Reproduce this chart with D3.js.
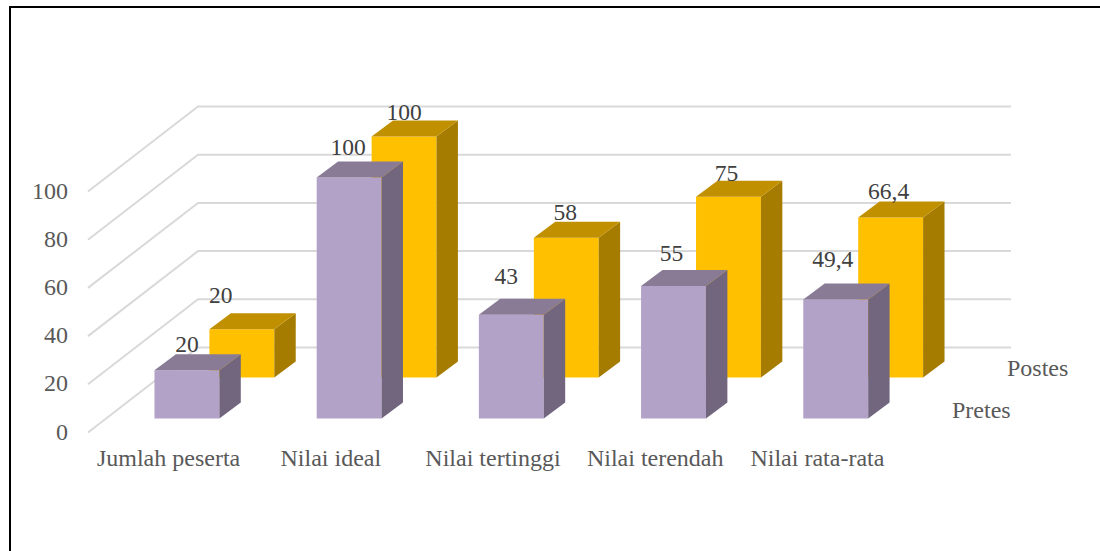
<!DOCTYPE html>
<html>
<head>
<meta charset="utf-8">
<script src="https://cdn.jsdelivr.net/npm/d3@7.9.0/dist/d3.min.js"></script>
<style>
html, body { margin: 0; padding: 0; background: #fff; }
svg { display: block; font-family: "Liberation Serif", serif; }
</style>
</head>
<body>
<script>
// values
const categories = ["Jumlah peserta", "Nilai ideal", "Nilai tertinggi", "Nilai terendah", "Nilai rata-rata"];
const seriesNames = ["Pretes", "Postes"];
const pretes = [20, 100, 43, 55, 49.4];
const postes = [20, 100, 58, 75, 66.4];
const valueTicks = [0, 20, 40, 60, 80, 100];

// labels were placed by hand in the original, so each one gets a nudge
const labelNudge = {
    Pretes: [[0, -2], [-1, -6], [-5, -15], [-2, -9], [-3, -16]],
    Postes: [[-21, -10], [0, -1], [-1, -2], [-2, 0], [-2, -3]]
};

const width = 1100, height = 551;
const colors = {
    Pretes: { front: "#b3a2c7", top: "#897b96", side: "#72667f" },
    Postes: { front: "#ffc000", top: "#c09000", side: "#a67c00" }
};

const svg = d3.select("body").append("svg").attr("width", width).attr("height", height);

// outer frame
svg.append("path")
    .attr("d", "M10,551V7H1100")
    .attr("fill", "none")
    .attr("stroke", "#000")
    .attr("stroke-width", 2);

const xScale = d3.scaleBand().domain(categories).range([88, 899]).paddingInner(0.6).paddingOuter(0.3);
const yScale = d3.scaleLinear().domain([0, 100]).range([432.5, 191.5]);
const depthScale = d3.scaleBand().domain(seriesNames).range([0, 1]).paddingInner(0.61).paddingOuter(0.3425);

// oblique projection: depth 0 is the front edge, depth 1 the back wall
const depthY = -85;
const project = (x, value, depth) => [x + depth * 110, yScale(value) + depth * depthY];
// the bars lean a bit more than the grid in the original
const projectBar = (x, value, depth) => [x - 1 + depth * 114, yScale(value) + depth * depthY];

// grid: floor/side line plus back wall line for each tick
const grid = svg.append("g").attr("fill", "none").attr("stroke", "#d9d9d9").attr("stroke-width", 2);
valueTicks.forEach(t => {
    grid.append("path").attr("d", d3.line()([
        project(88, t, 0),
        project(88, t, 1),
        project(901, t, 1)
    ]));
});

valueTicks.forEach(t => {
    svg.append("text")
        .attr("x", 68)
        .attr("y", yScale(t) + 7)
        .attr("text-anchor", "end")
        .attr("fill", "#595959")
        .style("font-size", "24px")
        .text(t);
});

categories.forEach(c => {
    svg.append("text")
        .attr("x", xScale(c) + xScale.bandwidth() / 2 - 0.5)
        .attr("y", 466)
        .attr("text-anchor", "middle")
        .attr("fill", "#595959")
        .style("font-size", "24px")
        .text(c);
});

// series names sit on the depth axis, to the right of the floor
const seriesNudge = { Pretes: [952, 418], Postes: [1007, 376] };
seriesNames.forEach(s => {
    svg.append("text")
        .attr("x", seriesNudge[s][0])
        .attr("y", seriesNudge[s][1])
        .attr("fill", "#595959")
        .style("font-size", "24px")
        .text(s);
});

function drawBar(parent, category, value, name) {
    const x0 = xScale(category), x1 = x0 + xScale.bandwidth();
    const d0 = depthScale(name), d1 = d0 + depthScale.bandwidth();
    const line = d3.line();
    const g = parent.append("g");
    g.append("path").attr("fill", colors[name].front)
        .attr("d", line([projectBar(x0, 0, d0), projectBar(x1, 0, d0), projectBar(x1, value, d0), projectBar(x0, value, d0)]) + "Z");
    g.append("path").attr("fill", colors[name].side)
        .attr("d", line([projectBar(x1, 0, d0), projectBar(x1, 0, d1), projectBar(x1, value, d1), projectBar(x1, value, d0)]) + "Z");
    g.append("path").attr("fill", colors[name].top)
        .attr("d", line([projectBar(x0, value, d0), projectBar(x1, value, d0), projectBar(x1, value, d1), projectBar(x0, value, d1)]) + "Z");
}

// back series first so the front one covers it
const bars = svg.append("g");
const seriesValues = { Pretes: pretes, Postes: postes };
["Postes", "Pretes"].forEach(name => {
    categories.forEach((c, i) => drawBar(bars, c, seriesValues[name][i], name));
});

seriesNames.forEach(name => {
    categories.forEach((c, i) => {
        const v = seriesValues[name][i];
        const d0 = depthScale(name), d1 = d0 + depthScale.bandwidth();
        const cx = projectBar(xScale(c) + xScale.bandwidth() / 2, v, d0)[0];
        const topY = projectBar(0, v, d1)[1];
        svg.append("text")
            .attr("x", cx + labelNudge[name][i][0])
            .attr("y", topY + labelNudge[name][i][1])
            .attr("text-anchor", "middle")
            .attr("fill", "#404040")
            .style("font-size", "23.5px")
            .text(String(v).replace(".", ","));
    });
});
</script>
</body>
</html>
